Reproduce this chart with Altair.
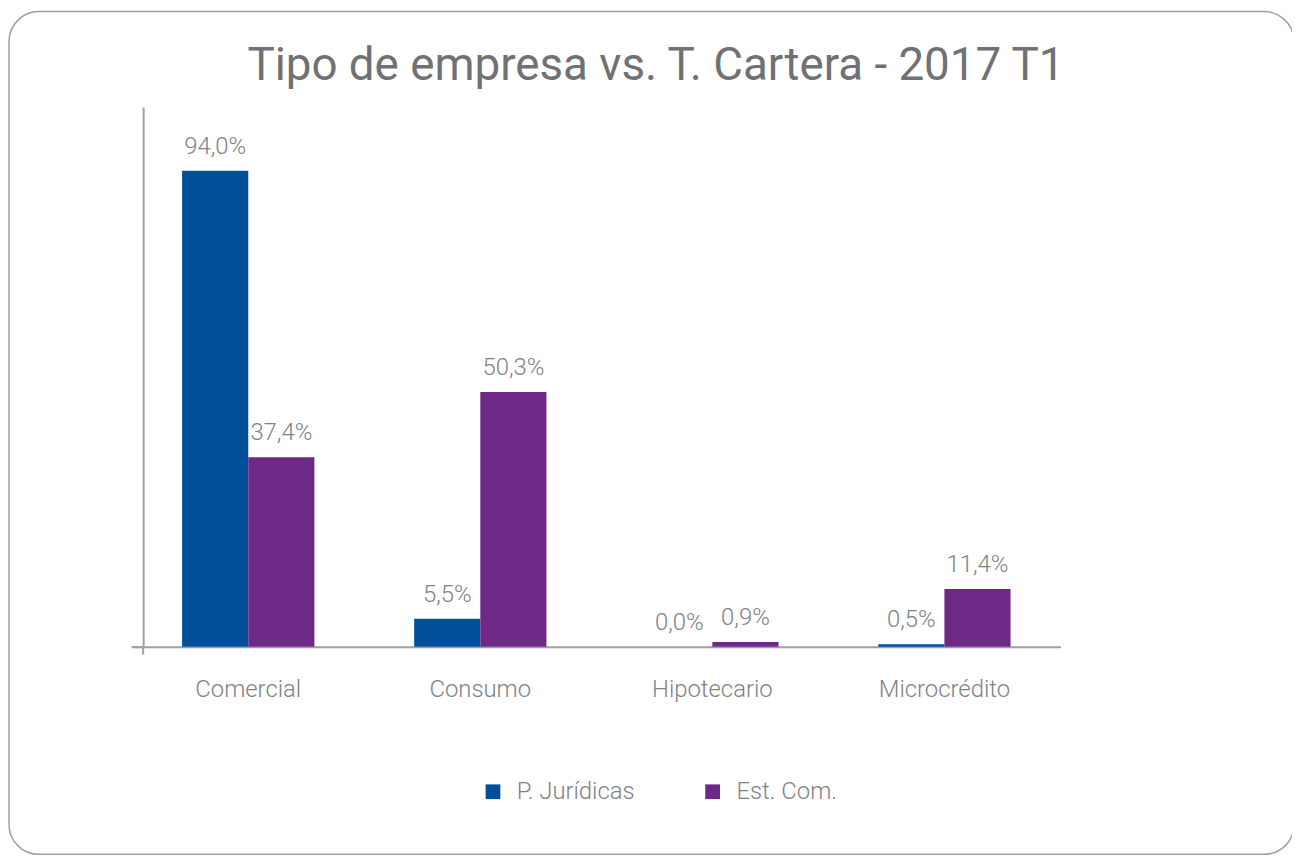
import altair as alt
import pandas as pd

categories = ["Comercial", "Consumo", "Hipotecario", "Microcrédito"]
series_names = ["P. Jurídicas", "Est. Com."]
p_juridicas = [94.0, 5.5, 0.0, 0.5]
est_com = [37.4, 50.3, 0.9, 11.4]
colors = ["#004F98", "#6E2885"]

rows = []
for i, c in enumerate(categories):
    for s, vals in zip(series_names, [p_juridicas, est_com]):
        v = vals[i]
        rows.append({"cat": c, "serie": s, "val": v,
                     "label": f"{v:.1f}".replace(".", ",") + "%"})
df = pd.DataFrame(rows)

FONT = "Roboto"
GRAY = "#808285"
LINE = "#a0a0a4"

x_enc = alt.X("cat:N", sort=categories,
              scale=alt.Scale(paddingInner=0.43, paddingOuter=0.215),
              axis=alt.Axis(title=None, labelAngle=0, labelFontSize=24, labelFont=FONT,
                            labelFontWeight=300, labelColor=GRAY, labelPadding=31,
                            ticks=False, domainColor=LINE, domainWidth=2))
xo_enc = alt.XOffset("serie:N", sort=series_names)
y_scale = alt.Scale(domain=[0, 106.6], nice=False)

bars = alt.Chart(df).mark_bar().encode(
    x=x_enc,
    xOffset=xo_enc,
    y=alt.Y("val:Q", scale=y_scale,
            axis=alt.Axis(title=None, labels=False, grid=False, values=[0], tickSize=12,
                          tickColor=LINE, tickWidth=2, domainColor=LINE,
                          domainWidth=2, offset=-11)),
    color=alt.Color("serie:N", sort=series_names,
                    scale=alt.Scale(domain=series_names, range=colors),
                    legend=alt.Legend(title=None, orient="none", direction="horizontal",
                                      legendX=351, legendY=677, symbolType="square",
                                      symbolSize=220, symbolStrokeWidth=0, symbolOpacity=1,
                                      labelFontSize=24, labelFont=FONT, labelFontWeight=300,
                                      labelColor=GRAY, columnPadding=66, labelOffset=12)),
)

labels = alt.Chart(df).mark_text(baseline="bottom", dy=-12, fontSize=24, font=FONT,
                                 fontWeight=300, color=GRAY).encode(
    x=alt.X("cat:N", sort=categories),
    xOffset=xo_enc,
    y=alt.Y("val:Q", scale=y_scale),
    text="label:N",
)

deco = pd.DataFrame({"a": [0]})
border = alt.Chart(deco).mark_rect(filled=False, stroke=LINE, strokeWidth=1.5,
                                    cornerRadius=30).encode(
    x=alt.value(-124), x2=alt.value(1169), y=alt.value(-96), y2=alt.value(752))
tail = alt.Chart(deco).mark_rule(color=LINE, strokeWidth=2).encode(
    x=alt.value(11), y=alt.value(543), y2=alt.value(551))

chart = alt.layer(border, bars, labels, tail).properties(
    width=934, height=543,
    padding={"left": 125, "top": 97, "right": 233, "bottom": 208},
    autosize=alt.AutoSizeParams(type="none"),
    title=alt.TitleParams("Tipo de empresa vs. T. Cartera - 2017 T1", fontSize=46,
                          font=FONT, fontWeight="normal", color="#707174",
                          anchor="middle", dx=60, offset=-80),
).configure_view(stroke=None).configure_axis(labelFont=FONT)

chart.save("out.html", embed_options={"renderer": "svg", "actions": False})
